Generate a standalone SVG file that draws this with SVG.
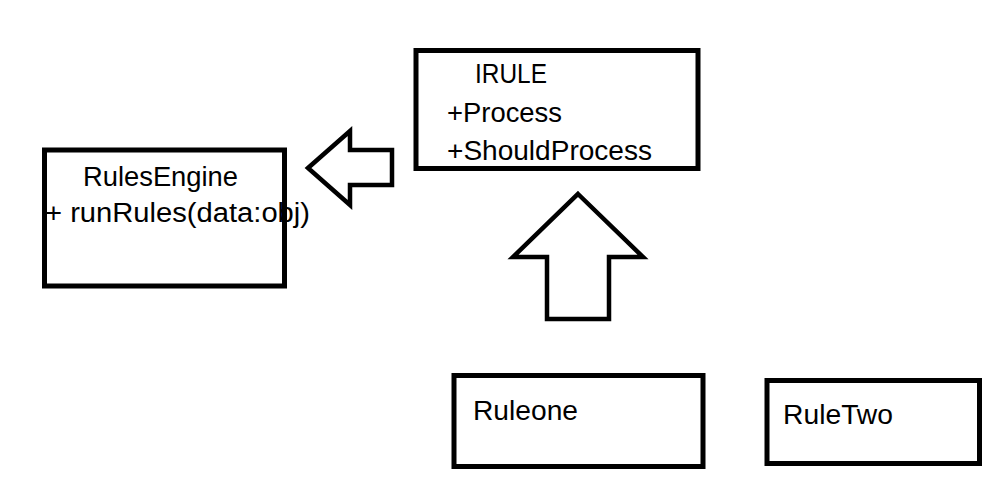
<svg xmlns="http://www.w3.org/2000/svg" width="1007" height="481" viewBox="0 0 1007 481">
<style>
.box{fill:#fff;stroke:#000;stroke-width:5}
.arr{fill:#fff;stroke:#000;stroke-width:4.5;stroke-linejoin:miter}
text{font-family:"Liberation Sans",Arial,sans-serif;font-size:27px;fill:#000}
</style>
<rect width="1007" height="481" fill="#fff"/>
<g id="connectors">
<polygon class="arr" points="308,168 350,131 350,150 392,150 392,185 350,185 350,205"/>
<polygon class="arr" points="578,194 643,257 609,257 609,319 547,319 547,257 513,257"/>
</g>
<g id="irule">
<rect class="box" x="416" y="50.5" width="282" height="118"/>
<text x="475" y="83" textLength="72" lengthAdjust="spacingAndGlyphs">IRULE</text>
<text x="447" y="122" textLength="115" lengthAdjust="spacingAndGlyphs">+Process</text>
<text x="447" y="160" textLength="205" lengthAdjust="spacingAndGlyphs">+ShouldProcess</text>
</g>
<g id="rulesengine">
<rect class="box" x="44.5" y="150" width="240" height="136"/>
<text x="83" y="186" textLength="155" lengthAdjust="spacingAndGlyphs">RulesEngine</text>
<text x="45" y="222" textLength="265" lengthAdjust="spacingAndGlyphs">+ runRules(data:obj)</text>
</g>
<g id="ruleone">
<rect class="box" x="454" y="375.5" width="249" height="91"/>
<text x="473" y="420" textLength="105" lengthAdjust="spacingAndGlyphs">Ruleone</text>
</g>
<g id="ruletwo">
<rect class="box" x="767" y="380.5" width="212.5" height="83"/>
<text x="783" y="423.5" textLength="110" lengthAdjust="spacingAndGlyphs">RuleTwo</text>
</g>
</svg>
